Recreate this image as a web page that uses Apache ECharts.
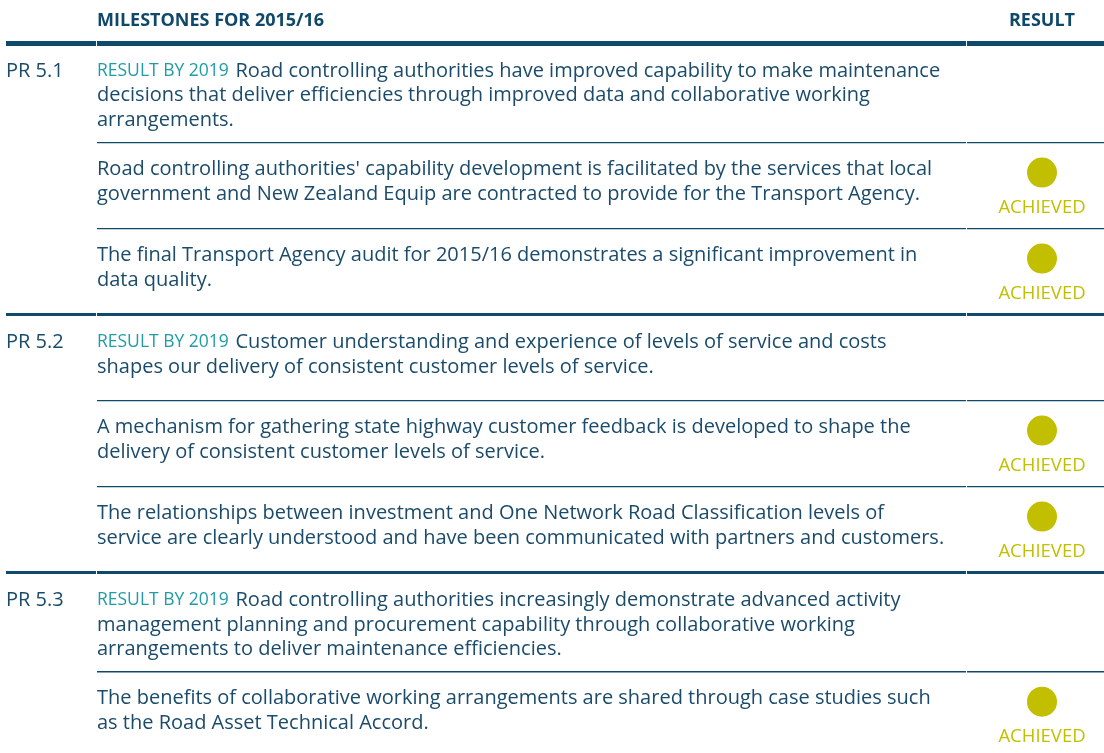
<!DOCTYPE html>
<html>
<head>
<meta charset="utf-8">
<script src="https://cdn.jsdelivr.net/npm/echarts@6/dist/echarts.min.js"></script>
<style>
html,body{margin:0;padding:0;background:#fff;}
#chart{width:1104px;height:753px;}
</style>
</head>
<body>
<div id="chart"></div>
<script>
// ---- data ----
const headerLabels = ['MILESTONES FOR 2015/16', 'RESULT'];
const prCodes = ['PR 5.1', 'PR 5.2', 'PR 5.3'];
const resultLabel = 'RESULT BY 2019';
const prResultLines = [
  ['Road controlling authorities have improved capability to make maintenance',
   'decisions that deliver efficiencies through improved data and collaborative working',
   'arrangements.'],
  ['Customer understanding and experience of levels of service and costs',
   'shapes our delivery of consistent customer levels of service.'],
  ['Road controlling authorities increasingly demonstrate advanced activity',
   'management planning and procurement capability through collaborative working',
   'arrangements to deliver maintenance efficiencies.']
];
const milestoneLines = [
  ["Road controlling authorities' capability development is facilitated by the services that local",
   'government and New Zealand Equip are contracted to provide for the Transport Agency.'],
  ['The final Transport Agency audit for 2015/16 demonstrates a significant improvement in',
   'data quality.'],
  ['A mechanism for gathering state highway customer feedback is developed to shape the',
   'delivery of consistent customer levels of service.'],
  ['The relationships between investment and One Network Road Classification levels of',
   'service are clearly understood and have been communicated with partners and customers.'],
  ['The benefits of collaborative working arrangements are shared through case studies such',
   'as the Road Asset Technical Accord.']
];
const milestonePr = [0, 0, 1, 1, 2];
const milestoneResults = ['ACHIEVED', 'ACHIEVED', 'ACHIEVED', 'ACHIEVED', 'ACHIEVED'];

// ---- style ----
const FONT = '"Open Sans", sans-serif';
const DARK = '#1b4b6b';
const LINE = '#0e4a6b';
const TEAL = '#1f9ca6';
const OLIVE = '#c1bf00';
const BODY = 20;
const LH = 24.7;
const COL0 = 6, COL1 = 97, COL2 = 966, RIGHT = 1104, RES_X = 1042;

const g = [];
function hline(y, h, full) {
  const segs = full ? [[COL0, COL1 - 1], [COL1, COL2], [COL2 + 1, RIGHT]] : [[COL1, COL2], [COL2 + 1, RIGHT]];
  segs.forEach(s => g.push({type: 'rect', shape: {x: s[0], y: y - h / 2, width: s[1] - s[0], height: h}, style: {fill: LINE}, silent: true}));
}
function txt(x, y, text, opt) {
  g.push({type: 'text', x: x, y: y, silent: true, style: Object.assign({
    text: text, font: BODY + 'px ' + FONT, fill: DARK, verticalAlign: 'middle', align: 'left'
  }, opt || {})});
}

// header
txt(COL1, 20.5, headerLabels[0], {font: 'bold 18px ' + FONT, fill: '#0f4869'});
txt(1075, 20.5, headerLabels[1], {font: 'bold 18px ' + FONT, fill: '#0f4869', align: 'right'});
let y = 43.5;
hline(y, 5, true);

prCodes.forEach((code, p) => {
  if (p > 0) hline(y, 3, true);
  const lines = prResultLines[p];
  txt(COL0, y + 27.5, code);
  lines.forEach((ln, i) => {
    if (i === 0) {
      g.push({type: 'text', x: COL1, y: y + 27.5, silent: true, style: {
        text: '{t|' + resultLabel + '}  {b|' + ln + '}', verticalAlign: 'middle',
        rich: {t: {font: '17.5px ' + FONT, fill: TEAL}, b: {font: BODY + 'px ' + FONT, fill: DARK}}
      }});
    } else {
      txt(COL1, y + 27.5 + i * LH, ln);
    }
  });
  y += Math.max(86, 25 + LH * lines.length);
  const ms = milestonePr.map((v, i) => v === p ? i : -1).filter(i => i >= 0);
  ms.forEach(m => {
    hline(y, 1.4, false);
    milestoneLines[m].forEach((ln, i) => txt(COL1, y + 27 + i * LH, ln));
    g.push({type: 'circle', shape: {cx: RES_X, cy: y + 30, r: 15}, style: {fill: OLIVE}, silent: true});
    txt(RES_X, y + 65, milestoneResults[m], {align: 'center', fill: OLIVE, font: '18.5px ' + FONT});
    y += 86;
  });
});

const chart = echarts.init(document.getElementById('chart'), null, {renderer: 'canvas'});
chart.setOption({animation: false, backgroundColor: '#fff', graphic: {elements: g}});
</script>
</body>
</html>
